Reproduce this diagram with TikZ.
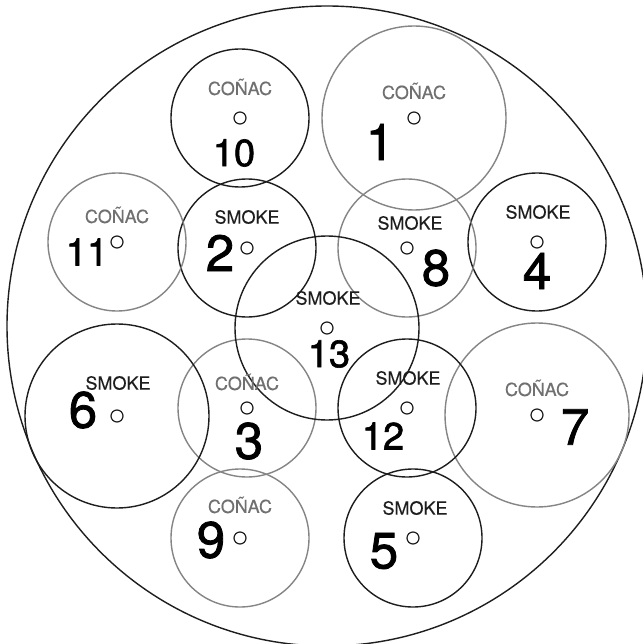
\documentclass[tikz,border=0pt]{standalone}
\usepackage{fontspec}
\setmainfont{TeX Gyre Heros}
\newfontfamily\numfont[FakeBold=1.6]{TeX Gyre Heros}
\newfontfamily\lblfont[FakeBold=0.4]{TeX Gyre Heros}
\definecolor{dk}{HTML}{1E1E1E}
\definecolor{gr}{HTML}{858585}
\definecolor{grtext}{HTML}{707070}
\begin{document}
\begin{tikzpicture}[x=1pt,y=-1pt,
  ring/.style={circle, draw, line width=1.4pt, inner sep=0pt, minimum size=#1},
  darkring/.style={ring=#1, draw=dk},
  grayring/.style={ring=#1, draw=gr},
  hole/.style={circle, draw=dk, line width=1.2pt, inner sep=0pt, minimum size=12pt},
  smoketext/.style={inner sep=0pt, text=dk, font=\lblfont\fontsize{18}{18}\selectfont},
  conactext/.style={inner sep=0pt, text=grtext, font=\lblfont\fontsize{18}{18}\selectfont},
  bignum/.style={inner sep=0pt, text=black, font=\numfont\fontsize{51}{51}\selectfont},
  smallnum/.style={inner sep=0pt, text=black, font=\numfont\fontsize{38}{38}\selectfont}
]
\useasboundingbox (0,0) rectangle (642,644);
\fill[white] (0,0) rectangle (642,644);

\node[ring=640pt, draw=dk] (plate) at (327,326) {};

% circles
\node[grayring=184pt] (c1) at (414,118) {};
\node[darkring=138pt] (c2) at (247,248) {};
\node[grayring=138pt] (c3) at (247,408) {};
\node[darkring=138pt] (c4) at (537,242) {};
\node[darkring=138pt] (c5) at (413,538) {};
\node[darkring=184pt] (c6) at (117,416) {};
\node[grayring=184pt] (c7) at (537,415) {};
\node[grayring=138pt] (c8) at (407,248) {};
\node[grayring=138pt] (c9) at (240,538) {};
\node[darkring=138pt] (c10) at (240,118) {};
\node[grayring=138pt] (c11) at (117,242) {};
\node[darkring=138pt] (c12) at (407,408) {};
\node[darkring=184pt] (c13) at (327,328) {};

% holes
\foreach \i in {1,...,13} {
  \node[hole] (h\i) at (c\i.center) {};
}

% labels
\node[conactext] (t1) at (414,91) {COÑAC};
\node[smoketext] (t2) at (247,217) {SMOKE};
\node[conactext] (t3) at (247,382) {COÑAC};
\node[smoketext] (t4) at (538,212) {SMOKE};
\node[smoketext] (t5) at (415,508) {SMOKE};
\node[smoketext] (t6) at (118,383) {SMOKE};
\node[conactext] (t7) at (537,388) {COÑAC};
\node[smoketext] (t8) at (410,223) {SMOKE};
\node[conactext] (t9) at (240,505) {COÑAC};
\node[conactext] (t10) at (240,87) {COÑAC};
\node[conactext] (t11) at (117,215) {COÑAC};
\node[smoketext] (t12) at (408,378) {SMOKE};
\node[smoketext] (t13) at (328,298) {SMOKE};

% numbers
\node[bignum] (n1) at (380,142) {1};
\node[bignum] (n2) at (220,253) {2};
\node[bignum] (n3) at (249,441) {3};
\node[bignum] (n4) at (537,271) {4};
\node[bignum] (n5) at (384,551) {5};
\node[bignum] (n6) at (83,410) {6};
\node[bignum] (n7) at (575,427) {7};
\node[bignum] (n8) at (436,268) {8};
\node[bignum] (n9) at (211,540) {9};
\node[smallnum] (n10) at (234,153) {10};
\node[smallnum] (n11) at (87,252) {11};
\node[smallnum] (n12) at (383,436) {12};
\node[smallnum] (n13) at (329,354) {13};
\end{tikzpicture}
\end{document}
